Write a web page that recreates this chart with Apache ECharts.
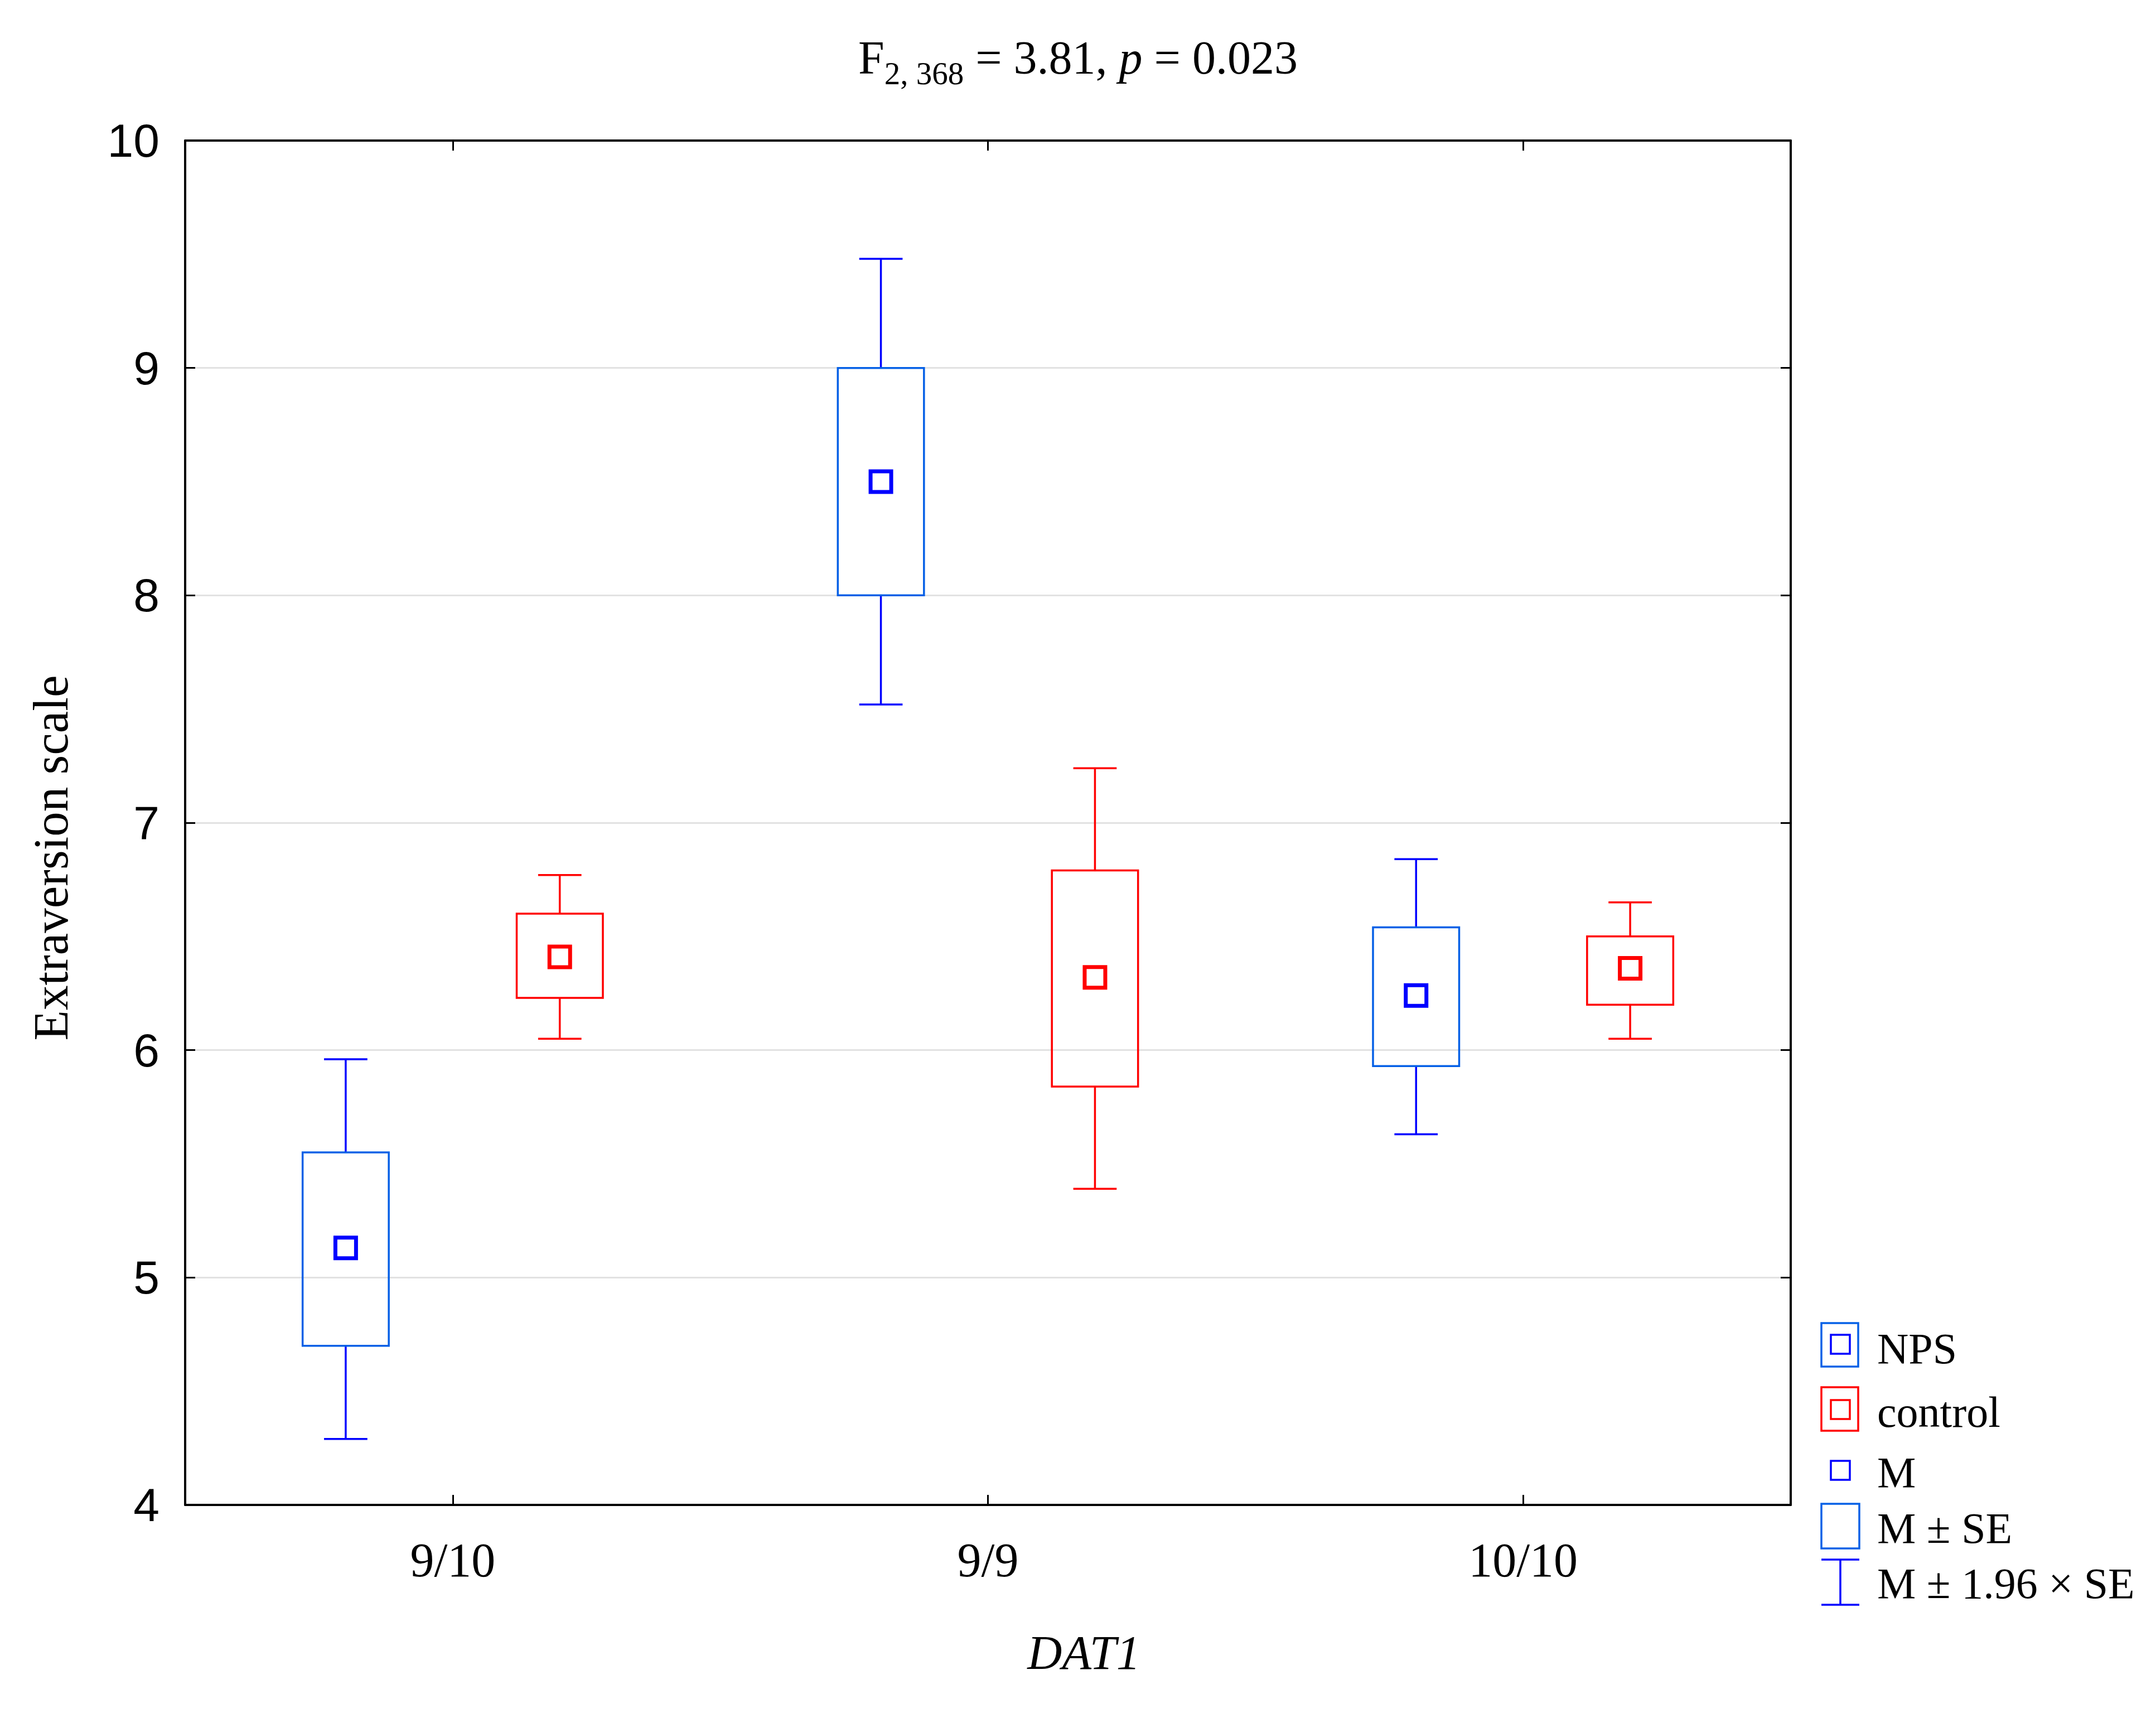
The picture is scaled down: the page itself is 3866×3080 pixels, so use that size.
<!DOCTYPE html>
<html>
<head>
<meta charset="utf-8">
<script src="https://cdn.jsdelivr.net/npm/echarts@6/dist/echarts.min.js"></script>
<style>
  html, body { margin: 0; padding: 0; background: #fff; }
  #main { width: 3866px; height: 3080px; }
</style>
</head>
<body>
<div id="main"></div>
<script>
const categories = ['9/10', '9/9', '10/10'];
const yMin = 4;
const yMax = 10;
const yStep = 1;

// NPS group: mean, mean +/- SE, mean +/- 1.96 SE
const npsMean = [5.13, 8.50, 6.24];
const npsSeLow = [4.70, 8.00, 5.93];
const npsSeHigh = [5.55, 9.00, 6.54];
const npsCiLow = [4.29, 7.52, 5.63];
const npsCiHigh = [5.96, 9.48, 6.84];

// control group
const ctrlMean = [6.41, 6.32, 6.36];
const ctrlSeLow = [6.23, 5.84, 6.20];
const ctrlSeHigh = [6.60, 6.79, 6.50];
const ctrlCiLow = [6.05, 5.39, 6.05];
const ctrlCiHigh = [6.77, 7.24, 6.65];

const SERIF = '"Liberation Serif", "Times New Roman", serif';
const SANS = '"Liberation Sans", Arial, sans-serif';
const BOX_BLUE = '#0560e6';
const BLUE = '#0000ff';
const RED = '#ff0000';

function rows(ciLow, seLow, mean, seHigh, ciHigh) {
  return categories.map((c, i) => [i, ciLow[i], seLow[i], mean[i], seHigh[i], ciHigh[i]]);
}

function makeRender(offset, boxColor, barColor, meanColor) {
  return function (params, api) {
    const cat = api.value(0);
    const band = api.size([1, 0])[0];
    const cx = api.coord([cat, yMin])[0] + offset * band;
    const y = (k) => api.coord([cat, api.value(k)])[1];
    const ciLow = y(1), seLow = y(2), mean = y(3), seHigh = y(4), ciHigh = y(5);
    const boxW = band * 0.161;
    const capW = band * 0.081;
    const mk = 37;
    const bar = { stroke: barColor, lineWidth: 3.5 };
    return {
      type: 'group',
      children: [
        { type: 'line', shape: { x1: cx, y1: seHigh, x2: cx, y2: ciHigh }, style: bar },
        { type: 'line', shape: { x1: cx, y1: seLow, x2: cx, y2: ciLow }, style: bar },
        { type: 'line', shape: { x1: cx - capW / 2, y1: ciHigh, x2: cx + capW / 2, y2: ciHigh }, style: bar },
        { type: 'line', shape: { x1: cx - capW / 2, y1: ciLow, x2: cx + capW / 2, y2: ciLow }, style: bar },
        {
          type: 'rect',
          shape: { x: cx - boxW / 2, y: seHigh, width: boxW, height: seLow - seHigh },
          style: { fill: 'none', stroke: boxColor, lineWidth: 3.5 }
        },
        {
          type: 'rect',
          shape: { x: cx - mk / 2, y: mean - mk / 2, width: mk, height: mk },
          style: { fill: 'none', stroke: meanColor, lineWidth: 7 }
        }
      ]
    };
  };
}

function legendText(text, baseline) {
  return {
    type: 'text',
    style: {
      text: text, x: 3366, y: baseline - 27,
      font: '78px ' + SERIF, fill: '#000', verticalAlign: 'middle', align: 'left'
    }
  };
}

const chart = echarts.init(document.getElementById('main'), null, { renderer: 'svg' });

const axisLine = { show: true, lineStyle: { color: '#000', width: 4 } };
const axisTick = { show: true, inside: true, length: 18, lineStyle: { color: '#000', width: 3 } };

const option = {
  backgroundColor: '#fff',
  animation: false,
  title: {
    text: '{r|F}{s|2, 368}{r| = 3.81, }{i|p}{r| = 0.023}',
    left: 'center',
    top: 46,
    padding: 0,
    textStyle: {
      fontWeight: 'normal',
      rich: {
        r: { fontFamily: SERIF, fontSize: 84, fontWeight: 'normal', lineHeight: 114, verticalAlign: 'middle', color: '#000' },
        s: { fontFamily: SERIF, fontSize: 57, fontWeight: 'normal', lineHeight: 57, verticalAlign: 'bottom', color: '#000' },
        i: { fontFamily: SERIF, fontSize: 84, fontWeight: 'normal', lineHeight: 114, verticalAlign: 'middle', fontStyle: 'italic', color: '#000' }
      }
    }
  },
  grid: { left: 332, right: 655, top: 252, bottom: 382 },
  xAxis: [
    {
      type: 'category',
      data: categories,
      position: 'bottom',
      boundaryGap: true,
      name: 'DAT1',
      nameLocation: 'middle',
      nameGap: 222,
      nameTextStyle: { fontFamily: SERIF, fontSize: 86, fontStyle: 'italic', color: '#000', padding: [0, 0, 0, 344] },
      axisLine: axisLine,
      axisTick: Object.assign({ alignWithLabel: true }, axisTick),
      axisLabel: { fontFamily: SERIF, fontSize: 86, color: '#000', margin: 56 },
      splitLine: { show: false }
    },
    {
      type: 'category',
      data: categories,
      position: 'top',
      boundaryGap: true,
      axisLine: axisLine,
      axisTick: Object.assign({ alignWithLabel: true }, axisTick),
      axisLabel: { show: false },
      splitLine: { show: false }
    }
  ],
  yAxis: [
    {
      type: 'value',
      min: yMin,
      max: yMax,
      interval: yStep,
      position: 'left',
      name: 'Extraversion scale',
      nameLocation: 'middle',
      nameRotate: 90,
      nameGap: 197,
      nameTextStyle: { fontFamily: SERIF, fontSize: 89, color: '#000', padding: [0, 126, 0, 0] },
      axisLine: axisLine,
      axisTick: axisTick,
      axisLabel: { fontFamily: SANS, fontSize: 84, color: '#000', margin: 46 },
      splitLine: { show: true, lineStyle: { color: '#e2e2e2', width: 3 } }
    },
    {
      type: 'value',
      min: yMin,
      max: yMax,
      interval: yStep,
      position: 'right',
      axisLine: axisLine,
      axisTick: axisTick,
      axisLabel: { show: false },
      splitLine: { show: false }
    }
  ],
  series: [
    {
      name: 'NPS',
      type: 'custom',
      xAxisIndex: 0,
      yAxisIndex: 0,
      encode: { x: 0, y: [1, 2, 3, 4, 5] },
      renderItem: makeRender(-0.2, BOX_BLUE, BLUE, BLUE),
      data: rows(npsCiLow, npsSeLow, npsMean, npsSeHigh, npsCiHigh)
    },
    {
      name: 'control',
      type: 'custom',
      xAxisIndex: 0,
      yAxisIndex: 0,
      encode: { x: 0, y: [1, 2, 3, 4, 5] },
      renderItem: makeRender(0.2, RED, RED, RED),
      data: rows(ctrlCiLow, ctrlSeLow, ctrlMean, ctrlSeHigh, ctrlCiHigh)
    }
  ],
  graphic: [
    // legend key
    { type: 'rect', shape: { x: 3266, y: 2372, width: 66, height: 78 }, style: { fill: 'none', stroke: BOX_BLUE, lineWidth: 3.5 } },
    { type: 'rect', shape: { x: 3283, y: 2393, width: 34, height: 34 }, style: { fill: 'none', stroke: BLUE, lineWidth: 3.5 } },
    legendText('NPS', 2444),
    { type: 'rect', shape: { x: 3266, y: 2487, width: 66, height: 78 }, style: { fill: 'none', stroke: RED, lineWidth: 3.5 } },
    { type: 'rect', shape: { x: 3283, y: 2510, width: 34, height: 34 }, style: { fill: 'none', stroke: RED, lineWidth: 3.5 } },
    legendText('control', 2558),
    { type: 'rect', shape: { x: 3283, y: 2619, width: 34, height: 34 }, style: { fill: 'none', stroke: BLUE, lineWidth: 3.5 } },
    legendText('M', 2666),
    { type: 'rect', shape: { x: 3266, y: 2696, width: 68, height: 80 }, style: { fill: 'none', stroke: BOX_BLUE, lineWidth: 3.5 } },
    legendText('M ± SE', 2766),
    { type: 'line', shape: { x1: 3300, y1: 2796, x2: 3300, y2: 2877 }, style: { stroke: BLUE, lineWidth: 3.5 } },
    { type: 'line', shape: { x1: 3266, y1: 2796, x2: 3334, y2: 2796 }, style: { stroke: BLUE, lineWidth: 3.5 } },
    { type: 'line', shape: { x1: 3266, y1: 2877, x2: 3334, y2: 2877 }, style: { stroke: BLUE, lineWidth: 3.5 } },
    legendText('M ± 1.96 × SE', 2865)
  ]
};

chart.setOption(option);
</script>
</body>
</html>
